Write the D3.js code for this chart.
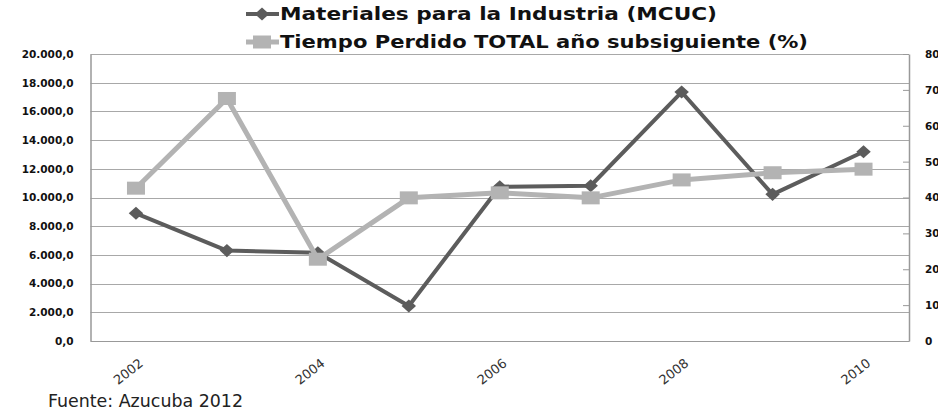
<!DOCTYPE html>
<html lang="es">
<head>
<meta charset="utf-8">
<title>Materiales para la Industria</title>
<script src="https://cdn.jsdelivr.net/npm/d3@7"></script>
<style>
  body { margin: 0; background: #fff; }
  svg { display: block; }
</style>
</head>
<body>
<script>
// data
var years = ["2002", "2003", "2004", "2005", "2006", "2007", "2008", "2009", "2010"];
var materiales = [8900, 6300, 6150, 2440, 10750, 10820, 17350, 10220, 13190];
var tiempo = [42.6, 67.6, 22.8, 39.9, 41.3, 39.9, 44.9, 46.9, 47.9];
var leftTicks = [0, 2000, 4000, 6000, 8000, 10000, 12000, 14000, 16000, 18000, 20000];
var rightTicks = [0, 10, 20, 30, 40, 50, 60, 70, 80];
var yearLabels = ["2002", "2004", "2006", "2008", "2010"];
var seriesNames = ["Materiales para la Industria (MCUC)", "Tiempo Perdido TOTAL año subsiguiente (%)"];

var w = 938, h = 412;
var plotL = 90.5, plotR = 909, plotT = 54, plotB = 341;

var svg = d3.select("body").append("svg")
  .attr("width", w).attr("height", h);

var x = d3.scaleBand().domain(years).range([plotL, plotR]);
var yL = d3.scaleLinear().domain([0, 20000]).range([plotB, plotT]);
var yR = d3.scaleLinear().domain([0, 80]).range([plotB, plotT]);

var fmt = function(d) {
  return d3.format(",.1f")(d).replace(/,/g, "#").replace(".", ",").replace(/#/g, ".");
};

// gridlines
svg.append("g").selectAll("line")
  .data(leftTicks)
  .enter().append("line")
  .attr("x1", plotL).attr("x2", plotR)
  .attr("y1", function(d) { return Math.round(yL(d)) + 0.5; })
  .attr("y2", function(d) { return Math.round(yL(d)) + 0.5; })
  .attr("stroke", "#a8a8a8").attr("stroke-width", 1.2);

// left axis
var gl = svg.append("g")
  .attr("transform", "translate(" + plotL + ",0)")
  .call(d3.axisLeft(yL).tickValues(leftTicks).tickSize(0).tickPadding(17).tickFormat(fmt));
gl.select(".domain").attr("stroke", "#999").attr("stroke-width", 1.5);
gl.selectAll("text")
  .attr("font-family", "DejaVu Sans").attr("font-weight", "bold")
  .attr("font-size", 10.5).attr("fill", "#111");

// right axis (labels run past the edge, as in the original)
var gr = svg.append("g")
  .attr("transform", "translate(" + plotR + ",0)")
  .call(d3.axisRight(yR).tickValues(rightTicks).tickSizeInner(0).tickSizeOuter(0).tickPadding(16));
gr.select(".domain").attr("stroke", "#999").attr("stroke-width", 1.5);
gr.selectAll(".tick").append("line")
  .attr("x1", -6).attr("x2", 0).attr("stroke", "#999");
gr.selectAll("text")
  .attr("font-family", "DejaVu Sans").attr("font-weight", "bold")
  .attr("font-size", 10.5).attr("fill", "#111");

// bottom axis
var gb = svg.append("g")
  .attr("transform", "translate(0," + plotB + ")")
  .call(d3.axisBottom(x).tickValues(yearLabels).tickSize(0).tickPadding(0));
gb.select(".domain").attr("stroke", "#999").attr("stroke-width", 1.2);
gb.selectAll("text")
  .attr("font-family", "DejaVu Sans").attr("font-size", 13).attr("fill", "#333")
  .attr("text-anchor", "end")
  .attr("dy", null).attr("y", 0)
  .attr("transform", "translate(8,24) rotate(-38)");

var cx = function(d, i) { return x(years[i]) + x.bandwidth() / 2; };

// materiales line
var line1 = d3.line()
  .x(function(d, i) { return cx(d, i); })
  .y(function(d) { return yL(d); });
svg.append("path").datum(materiales)
  .attr("d", line1).attr("fill", "none")
  .attr("stroke", "#5c5c5c").attr("stroke-width", 4).attr("stroke-linejoin", "round");
svg.append("g").selectAll("path")
  .data(materiales).enter().append("path")
  .attr("d", d3.symbol().type(d3.symbolDiamond2).size(110))
  .attr("transform", function(d, i) { return "translate(" + cx(d, i) + "," + yL(d) + ") scale(1.1,1)"; })
  .attr("fill", "#5c5c5c");

// tiempo line
var line2 = d3.line()
  .x(function(d, i) { return cx(d, i); })
  .y(function(d) { return yR(d); });
svg.append("path").datum(tiempo)
  .attr("d", line2).attr("fill", "none")
  .attr("stroke", "#b3b3b3").attr("stroke-width", 5).attr("stroke-linejoin", "round");
svg.append("g").selectAll("rect")
  .data(tiempo).enter().append("rect")
  .attr("x", function(d, i) { return cx(d, i) - 9; })
  .attr("y", function(d) { return yR(d) - 6.5; })
  .attr("width", 18).attr("height", 13)
  .attr("fill", "#b3b3b3");

// legend
var leg = svg.append("g");
var legColors = ["#5c5c5c", "#b3b3b3"];
var legY = [14, 42];
var legW = [437, 528];
seriesNames.forEach(function(name, i) {
  leg.append("line")
    .attr("x1", 246).attr("x2", 279).attr("y1", legY[i]).attr("y2", legY[i])
    .attr("stroke", legColors[i]).attr("stroke-width", i === 0 ? 4 : 5);
  if (i === 0) {
    leg.append("path")
      .attr("d", d3.symbol().type(d3.symbolDiamond2).size(110))
      .attr("transform", "translate(262," + legY[i] + ") scale(1.1,1)")
      .attr("fill", legColors[i]);
  } else {
    leg.append("rect")
      .attr("x", 253).attr("y", legY[i] - 6.5).attr("width", 18).attr("height", 13)
      .attr("fill", legColors[i]);
  }
  leg.append("text")
    .attr("x", 280).attr("y", legY[i] + 6)
    .attr("font-family", "DejaVu Sans").attr("font-weight", "bold")
    .attr("font-size", 18).attr("fill", "#111")
    .attr("textLength", legW[i]).attr("lengthAdjust", "spacingAndGlyphs")
    .text(name);
});

// source
svg.append("text")
  .attr("x", 48).attr("y", 407)
  .attr("font-family", "DejaVu Sans Condensed").attr("font-size", 17)
  .attr("fill", "#222")
  .attr("textLength", 195).attr("lengthAdjust", "spacingAndGlyphs")
  .text("Fuente: Azucuba 2012");
</script>
</body>
</html>
